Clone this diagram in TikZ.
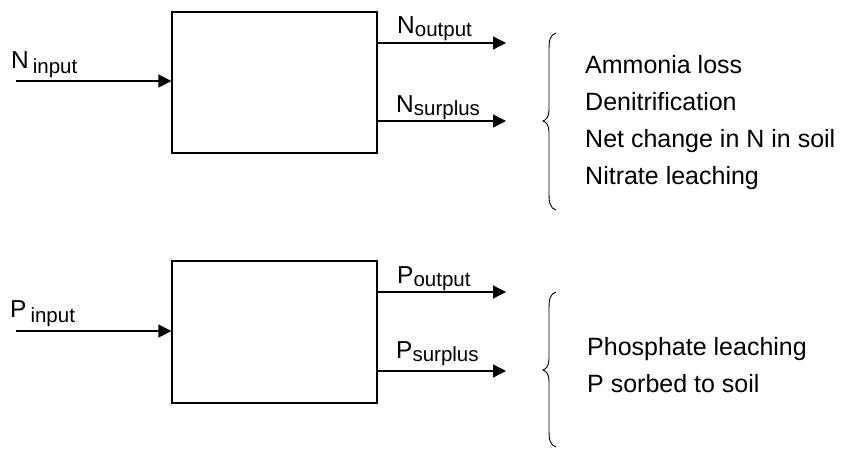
\documentclass[tikz,border=0pt]{standalone}
\usepackage{fontspec}
\setmainfont{Liberation Sans}
\usetikzlibrary{arrows.meta}
\newcommand{\mainsz}{\fontsize{24.5}{30}\selectfont}
\newcommand{\itemsz}{\fontsize{25}{30}\selectfont}
\newcommand{\subtxt}[2][4pt]{\raisebox{-#1}{\fontsize{20.5}{25}\selectfont #2}}
\begin{document}
\begin{tikzpicture}[x=1pt,y=-1pt,
  flow/.style={line width=1.3pt, -{Triangle[length=13pt,width=13pt]}},
  procbox/.style={draw, line width=1.3pt, minimum width=205pt, inner sep=0pt},
  lbl/.style={anchor=base west, inner sep=0pt, font=\mainsz},
  item/.style={anchor=base west, inner sep=0pt, font=\itemsz},
  bracepath/.style={line width=0.9pt}]
\useasboundingbox (0,0) rectangle (843,448);

% ---------- N balance ----------
\node[procbox, minimum height=141pt] (nbox) at (274.5,82.5) {};
\coordinate (nin) at (16,81);
\coordinate (nout) at (506,43);
\coordinate (nsur) at (506,121);
\draw[flow] (nin) -- (nin -| nbox.west);
\draw[flow] (nbox.east |- nout) -- (nout);
\draw[flow] (nbox.east |- nsur) -- (nsur);
\node[lbl] (ninl) at (11,68) {N\hspace{4pt}\subtxt[5pt]{input}};
\node[lbl] (noutl) at (397,33) {N\subtxt[3pt]{output}};
\node[lbl] (nsurl) at (396,112) {N\subtxt[3pt]{surplus}};

\draw[bracepath] (556,33) .. controls (550,35) and (549,40) .. (549,50)
  -- (549,110) .. controls (549,117) and (546,120) .. (543,121)
  .. controls (546,122) and (549,125) .. (549,132)
  -- (549,193) .. controls (549,203) and (550,208) .. (556,210);

\node[item] (n1) at (585,73.5) {Ammonia loss};
\node[item] (n2) at (585,110.5) {Denitrification};
\node[item] (n3) at (585,147.5) {Net change in N in soil};
\node[item] (n4) at (585,184.5) {Nitrate leaching};

% ---------- P balance ----------
\node[procbox, minimum height=142pt] (pbox) at (274.5,332) {};
\coordinate (pin) at (16,331);
\coordinate (pout) at (506,292);
\coordinate (psur) at (506,371);
\draw[flow] (pin) -- (pin -| pbox.west);
\draw[flow] (pbox.east |- pout) -- (pout);
\draw[flow] (pbox.east |- psur) -- (psur);
\node[lbl] (pinl) at (10,317) {P\hspace{4pt}\subtxt[5pt]{input}};
\node[lbl] (poutl) at (397,283) {P\subtxt[3pt]{output}};
\node[lbl] (psurl) at (396,358) {P\subtxt[3pt]{surplus}};

\draw[bracepath] (556,292) .. controls (550,294) and (549,299) .. (549,309)
  -- (549,359) .. controls (549,366) and (546,369) .. (543,370)
  .. controls (546,371) and (549,374) .. (549,381)
  -- (549,430) .. controls (549,440) and (550,445) .. (556,447);

\node[item] (p1) at (587,355) {Phosphate leaching};
\node[item] (p2) at (587,392) {P sorbed to soil};
\end{tikzpicture}
\end{document}
